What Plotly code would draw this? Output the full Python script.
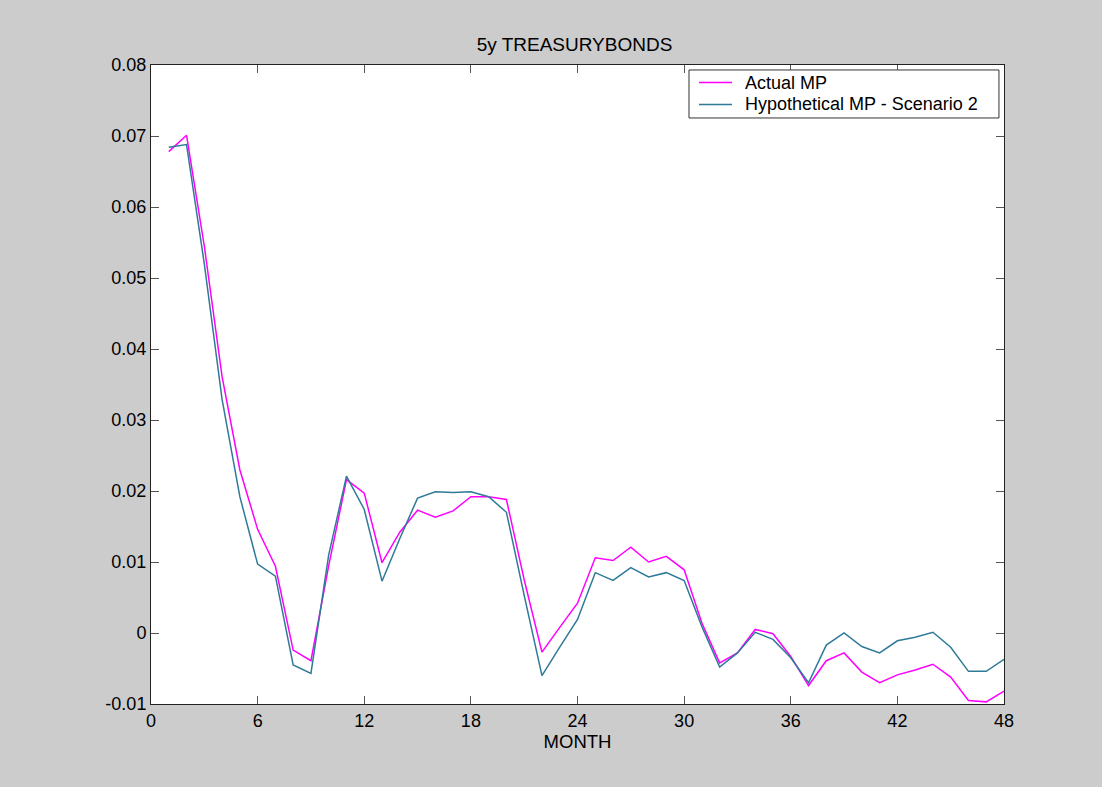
import plotly.graph_objects as go

months = list(range(1, 49))

actual_mp = [
    0.0678, 0.0701, 0.0545, 0.0361, 0.0230, 0.0146, 0.0094, -0.0024, -0.0039, 0.0095,
    0.0216, 0.0197, 0.0099, 0.0142, 0.0173, 0.0163, 0.0172, 0.0192, 0.0192, 0.0188,
    0.0075, -0.0027, 0.0008, 0.0042, 0.0106, 0.0102, 0.0121, 0.0100, 0.0108, 0.0089,
    0.0014, -0.0042, -0.0028, 0.0005, -0.0001, -0.0033, -0.0074, -0.0039, -0.0028, -0.0055,
    -0.0070, -0.0059, -0.0052, -0.0044, -0.0062, -0.0095, -0.0097, -0.0082,
]

hypothetical_mp = [
    0.0684, 0.0688, 0.0520, 0.0329, 0.0192, 0.0097, 0.0080, -0.0045, -0.0057, 0.0110,
    0.0221, 0.0174, 0.0073, 0.0133, 0.0190, 0.0199, 0.0198, 0.0199, 0.0192, 0.0170,
    0.0053, -0.0060, -0.0020, 0.0019, 0.0085, 0.0074, 0.0092, 0.0079, 0.0085, 0.0074,
    0.0009, -0.0048, -0.0028, 0.0001, -0.0009, -0.0035, -0.0070, -0.0017, 0.0000, -0.0019,
    -0.0028, -0.0011, -0.0006, 0.0001, -0.0020, -0.0054, -0.0054, -0.0037,
]

series_names = ["Actual MP", "Hypothetical MP - Scenario 2"]
series_colors = ["#ff00ff", "#2f7a98"]

x_ticks = [0, 6, 12, 18, 24, 30, 36, 42, 48]
y_ticks = [-0.01, 0, 0.01, 0.02, 0.03, 0.04, 0.05, 0.06, 0.07, 0.08]
y_tick_labels = ["-0.01", "0", "0.01", "0.02", "0.03", "0.04", "0.05", "0.06", "0.07", "0.08"]

font_family = "Liberation Sans, Arial, sans-serif"

fig = go.Figure()
for name, values, color in zip(series_names, [actual_mp, hypothetical_mp], series_colors):
    fig.add_trace(go.Scatter(
        x=months, y=values, mode="lines", name=name,
        line=dict(color=color, width=1.5),
    ))

axis_common = dict(
    showline=True, linecolor="#222222", linewidth=1, mirror="ticks",
    ticks="inside", ticklen=8, tickcolor="#555555", tickwidth=1,
    showgrid=False, zeroline=False,
    tickfont=dict(family=font_family, size=18, color="#000000"),
)

# Compact boxed legend in the upper-right corner of the axes (paper coordinates)
box_x0, box_x1 = 0.6307, 0.9941
box_y0, box_y1 = 0.9171, 0.9922
row_y = [0.9726, 0.9382]
sample_x0, sample_x1 = 0.6424, 0.6811
text_x = 0.6946

shapes = [dict(type="rect", xref="paper", yref="paper",
               x0=box_x0, x1=box_x1, y0=box_y0, y1=box_y1,
               line=dict(color="#333333", width=1), fillcolor="#ffffff", layer="above")]
annotations = []
for ry, name, color in zip(row_y, series_names, series_colors):
    shapes.append(dict(type="line", xref="paper", yref="paper",
                       x0=sample_x0, x1=sample_x1, y0=ry, y1=ry,
                       line=dict(color=color, width=1.5), layer="above"))
    annotations.append(dict(xref="paper", yref="paper", x=text_x, y=ry,
                            xanchor="left", yanchor="middle", showarrow=False,
                            text=name,
                            font=dict(family=font_family, size=18, color="#000000")))

fig.update_layout(
    width=1102, height=787,
    paper_bgcolor="#cccccc", plot_bgcolor="#ffffff",
    margin=dict(l=151, r=98, t=65, b=83),
    title=dict(text="5y TREASURYBONDS", x=0.5213, xanchor="center", y=0.944, yanchor="middle",
               font=dict(family=font_family, size=19, color="#000000")),
    xaxis=dict(range=[0, 48], tickvals=x_ticks,
               title=dict(text="MONTH", standoff=0,
                          font=dict(family=font_family, size=18.5, color="#000000")),
               **axis_common),
    yaxis=dict(range=[-0.01, 0.08], tickvals=y_ticks, ticktext=y_tick_labels, **axis_common),
    showlegend=False,
    shapes=shapes,
    annotations=annotations,
)

fig.write_html("out.html")
